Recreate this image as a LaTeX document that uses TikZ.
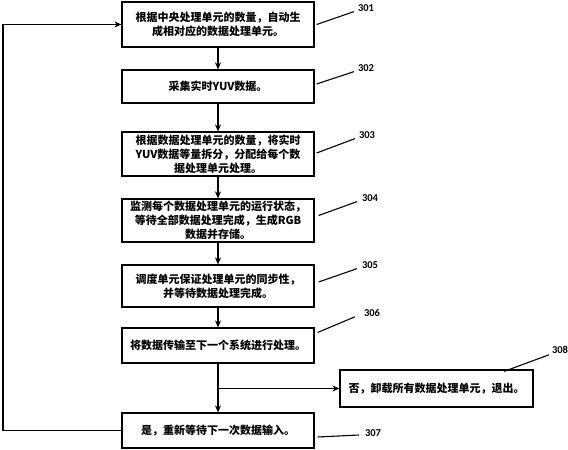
\documentclass[tikz,border=0pt]{standalone}
\usepackage{fontspec}
\setmainfont{Carlito}
\newfontfamily\cjk{Noto Sans CJK SC}
\usetikzlibrary{arrows.meta}
\begin{document}
\begin{tikzpicture}[x=1pt,y=-1pt,
  box/.style={draw, line width=1.2pt, inner sep=0pt, minimum width=192pt,
    font=\cjk\bfseries\fontsize{11}{14}\selectfont, align=center},
  flow/.style={line width=1.6pt, -{Stealth[length=7pt,width=6pt]}},
  lead/.style={line width=1.1pt},
  num/.style={font=\bfseries\fontsize{10.5}{11}\selectfont, inner sep=0pt}]
\useasboundingbox (0,0) rectangle (568,450);
\node[box, minimum height=45pt] (b1) at (218,24.5) {根据中央处理单元的数量，自动生\\成相对应的数据处理单元。};
\node[box, minimum height=33pt] (b2) at (218,86.5) {采集实时YUV数据。};
\node[box, minimum height=44pt] (b3) at (218,154) {根据数据处理单元的数量，将实时\\YUV数据等量拆分，分配给每个数\\据处理单元处理。};
\node[box, minimum height=43pt] (b4) at (218,220.5) {监测每个数据处理单元的运行状态，\\等待全部数据处理完成，生成RGB\\数据并存储。};
\node[box, minimum height=42pt] (b5) at (218,286) {调度单元保证处理单元的同步性，\\并等待数据处理完成。};
\node[box, minimum height=35pt] (b6) at (218,345.5) {将数据传输至下一个系统进行处理。};
\node[box, minimum height=35pt] (b7) at (218,430.5) {是，重新等待下一次数据输入。};
\node[box, minimum height=37pt, minimum width=193pt] (b8) at (436.5,388.5) {否，卸载所有数据处理单元，退出。};

\draw[flow] (b1) -- (b2);
\draw[flow] (b2) -- (b3);
\draw[flow] (b3) -- (b4);
\draw[flow] (b4) -- (b5);
\draw[flow] (b5) -- (b6);
\draw[flow] (b6) -- (b7);
\coordinate (j) at (b6.south |- b8.west);
\draw[flow] (j) -- (b8.west);
\coordinate (fb) at (3,430.5);
\draw[flow] (b7.west) -- (fb) |- (b1.west);

\node[num] (n1) at (366,8) {301};
\node[num] (n2) at (366,68) {302};
\node[num] (n3) at (367,135) {303};
\node[num] (n4) at (370,198) {304};
\node[num] (n5) at (370,265) {305};
\node[num] (n6) at (372,313) {306};
\node[num] (n7) at (373,433) {307};
\node[num] (n8) at (560,350) {308};
\draw[lead] ([xshift=2pt]b1.east) -- ([xshift=-4pt]n1.south west);
\draw[lead] ([xshift=2pt,yshift=2.5pt]b2.east) -- ([xshift=-4pt]n2.south west);
\draw[lead] ([xshift=2pt,yshift=1pt]b3.east) -- ([xshift=-4pt]n3.south west);
\draw[lead] ([xshift=4pt,yshift=5pt]b4.east) -- ([xshift=-5pt]n4.south west);
\draw[lead] ([xshift=4pt,yshift=4pt]b5.east) -- ([xshift=-5pt]n5.south west);
\draw[lead] ([xshift=3pt,yshift=13pt]b6.east) -- ([xshift=-9pt]n6.south west);
\draw[lead] ([xshift=3pt,yshift=-6.5pt]b7.east) -- ([xshift=-6pt,yshift=-2pt]n7.west);
\draw[lead] ([xshift=67.5pt,yshift=-2pt]b8.north) -- ([xshift=-3pt,yshift=-1pt]n8.south west);
\end{tikzpicture}
\end{document}
